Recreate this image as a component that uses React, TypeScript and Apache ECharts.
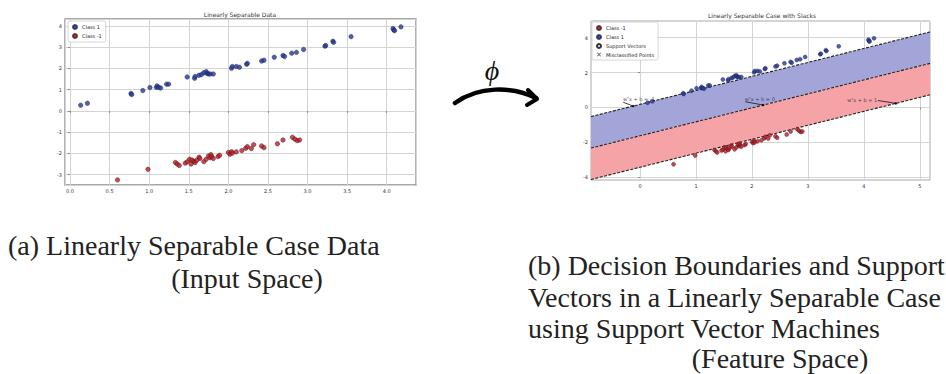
import React, { useEffect, useRef } from 'react';
import * as echarts from 'echarts';

// ---------- data ----------
const class1Points: number[][] = [
  [0.135, 0.27], [0.22, 0.36], [0.77, 0.82], [0.78, 0.77], [0.92, 0.96], [1.01, 1.1],
  [1.09, 1.11], [1.1, 1.18], [1.12, 1.11], [1.145, 1.08], [1.22, 1.26], [1.246, 1.26],
  [1.48, 1.6], [1.574, 1.54], [1.58, 1.62], [1.63, 1.68], [1.66, 1.71], [1.69, 1.8],
  [1.72, 1.85], [1.73, 1.77], [1.75, 1.74], [1.77, 1.74], [1.81, 1.74], [2.04, 2.01],
  [2.05, 2.09], [2.1, 2.09], [2.14, 2.06], [2.23, 2.2], [2.24, 2.24], [2.42, 2.35],
  [2.45, 2.39], [2.58, 2.53], [2.69, 2.61], [2.71, 2.56], [2.8, 2.72], [2.86, 2.76],
  [2.95, 2.89], [3.22, 3.05], [3.23, 3.08], [3.32, 3.28], [3.33, 3.23], [3.55, 3.5],
  [4.08, 3.88], [4.09, 3.81], [4.1, 3.78], [4.18, 3.96],
];
const classNeg1Points: number[][] = [
  [0.6, -3.25], [0.985, -2.75], [1.33, -2.43], [1.355, -2.5], [1.38, -2.57], [1.456, -2.46],
  [1.48, -2.4], [1.51, -2.28], [1.53, -2.5], [1.54, -2.31], [1.566, -2.37], [1.58, -2.43],
  [1.6, -2.32], [1.63, -2.18], [1.64, -2.24], [1.69, -2.39], [1.72, -2.28], [1.75, -2.12],
  [1.77, -2.21], [1.78, -2.06], [1.79, -2.15], [1.81, -2.24], [1.87, -2.15], [1.89, -2.09],
  [2.0, -1.96], [2.02, -2.04], [2.04, -1.92], [2.05, -1.99], [2.1, -1.93], [2.17, -1.87],
  [2.22, -1.76], [2.24, -1.68], [2.29, -1.77], [2.32, -1.59], [2.42, -1.65], [2.45, -1.73],
  [2.62, -1.55], [2.69, -1.37], [2.81, -1.24], [2.84, -1.33], [2.87, -1.4], [2.9, -1.37],
];
// decision boundaries: y = slope * x + intercept
const boundarySlope = 0.8;
const boundaryIntercepts = [0.18, -1.62, -3.42]; // upper margin, decision, lower margin
const annotationLabels = ['wᵀx + b = -1', 'wᵀx + b = 0', 'wᵀx + b = 1'];
const annotationTextPos: number[][] = [[-0.02, 0.48], [2.14, 0.5], [3.97, 0.42]];
const annotationStarts: number[][] = [[-0.3, 0.3], [1.88, 0.33], [4.25, 0.4]];
const annotationTargets: number[][] = [[-0.12, 0.08], [2.2, 0.14], [4.57, 0.236]];

// axis ranges
const leftX = [-0.063, 4.37];
const leftY = [-3.49, 4.33];
const rightX = [-0.875, 5.18];
const rightY = [-4.15, 4.95];

const BLUE = '#2b3990';
const RED = '#b3202a';
const BLUE_BAND = '#a3a5d8';
const RED_BAND = '#f5a3a7';

const SERIF = '"Liberation Serif", "DejaVu Serif", serif';
const SANS = '"DejaVu Sans", sans-serif';

export default function App() {
  const ref = useRef<HTMLDivElement>(null);
  useEffect(() => {
    if (!ref.current) return;
    const chart = echarts.init(ref.current, undefined, { renderer: 'svg' });

    const axisLabel = (fmt: (v: number) => string) => ({
      fontSize: 5,
      color: '#333',
      fontFamily: SANS,
      margin: 3,
      showMinLabel: false,
      showMaxLabel: false,
      formatter: fmt,
    });
    const splitLine = { show: true, lineStyle: { color: '#d4d4d4', width: 1 } };
    const axisTick = { show: true, length: 2, lineStyle: { color: '#555', width: 0.6 } };

    const boundaryLine = (b: number) => ({
      type: 'line',
      xAxisIndex: 1,
      yAxisIndex: 1,
      data: [
        [rightX[0], boundarySlope * rightX[0] + b],
        [rightX[1], boundarySlope * rightX[1] + b],
      ],
      showSymbol: false,
      symbol: 'none',
      lineStyle: { color: '#222', width: 1.1, type: [3, 1.5] },
      silent: true,
      z: 4,
    });

    const band = (bLow: number, bHigh: number, color: string) => ({
      type: 'custom',
      xAxisIndex: 1,
      yAxisIndex: 1,
      silent: true,
      clip: true,
      z: 1,
      data: [[rightX[0], rightX[1], bLow, bHigh]],
      renderItem: (_p: any, api: any) => {
        const x0 = api.value(0);
        const x1 = api.value(1);
        const b0 = api.value(2);
        const b1 = api.value(3);
        const pts = [
          [x0, boundarySlope * x0 + b0],
          [x1, boundarySlope * x1 + b0],
          [x1, boundarySlope * x1 + b1],
          [x0, boundarySlope * x0 + b1],
        ].map((p) => api.coord(p));
        return { type: 'polygon', shape: { points: pts }, style: { fill: color } };
      },
    });

    const arrows = annotationStarts.map((s, i) => ({
      type: 'line',
      xAxisIndex: 1,
      yAxisIndex: 1,
      data: [s, annotationTargets[i]],
      symbol: 'none',
      lineStyle: { color: '#111', width: 0.8 },
      silent: true,
      z: 6,
    }));

    const legendBase = {
      orient: 'vertical',
      itemWidth: 4,
      itemHeight: 4,
      padding: [3, 4, 3, 4],
      backgroundColor: '#fff',
      borderColor: '#ccc',
      borderWidth: 0.8,
      borderRadius: 2,
      textStyle: { fontSize: 5, color: '#222', fontFamily: SANS },
      selectedMode: false,
    };

    chart.setOption({
      animation: false,
      grid: [
        { left: 65, top: 19, width: 351, height: 166, show: true, borderColor: '#8a8a8a', borderWidth: 1.3, backgroundColor: '#fff' },
        { left: 591, top: 21, width: 339, height: 159, show: true, borderColor: '#a8a8a8', borderWidth: 1, backgroundColor: '#fff' },
      ],
      xAxis: [
        {
          type: 'value', gridIndex: 0, min: leftX[0], max: leftX[1], splitNumber: 9,
          axisLine: { show: false }, axisTick, splitLine,
          axisLabel: axisLabel((v: number) => v.toFixed(1)),
        },
        {
          type: 'value', gridIndex: 1, min: rightX[0], max: rightX[1], splitNumber: 6,
          axisLine: { show: false }, axisTick, splitLine,
          axisLabel: axisLabel((v: number) => String(Math.round(v))),
        },
      ],
      yAxis: [
        {
          type: 'value', gridIndex: 0, min: leftY[0], max: leftY[1], splitNumber: 8,
          axisLine: { show: false }, axisTick, splitLine,
          axisLabel: axisLabel((v: number) => String(Math.round(v))),
        },
        {
          type: 'value', gridIndex: 1, min: rightY[0], max: rightY[1], splitNumber: 5,
          axisLine: { show: false }, axisTick, splitLine,
          axisLabel: axisLabel((v: number) => String(Math.round(v))),
        },
      ],
      legend: [
        { ...legendBase, left: 68, top: 21, itemGap: 3, data: ['Class 1', 'Class -1'] },
        { ...legendBase, left: 592, top: 22, itemGap: 3, data: ['Class -1', 'Class 1', 'Support Vectors', 'Misclassified Points'] },
      ],
      series: [
        {
          name: 'Class 1', type: 'scatter', xAxisIndex: 0, yAxisIndex: 0, data: class1Points,
          symbolSize: 4.5, itemStyle: { color: BLUE, borderColor: '#141d5c', borderWidth: 0.5 }, z: 5,
        },
        {
          name: 'Class -1', type: 'scatter', xAxisIndex: 0, yAxisIndex: 0, data: classNeg1Points,
          symbolSize: 4.5, itemStyle: { color: RED, borderColor: '#4d0c0f', borderWidth: 0.5 }, z: 5,
        },
        band(boundaryIntercepts[1], boundaryIntercepts[0], BLUE_BAND),
        band(boundaryIntercepts[2], boundaryIntercepts[1], RED_BAND),
        ...boundaryIntercepts.map(boundaryLine),
        {
          name: 'Class -1', type: 'scatter', xAxisIndex: 1, yAxisIndex: 1, data: classNeg1Points,
          symbolSize: 4, itemStyle: { color: RED, borderColor: '#4d0c0f', borderWidth: 0.5 }, z: 5,
        },
        {
          name: 'Class 1', type: 'scatter', xAxisIndex: 1, yAxisIndex: 1, data: class1Points,
          symbolSize: 4, itemStyle: { color: BLUE, borderColor: '#141d5c', borderWidth: 0.5 }, z: 5,
        },
        {
          name: 'Support Vectors', type: 'scatter', xAxisIndex: 1, yAxisIndex: 1, data: [],
          symbol: 'circle', symbolSize: 6,
          itemStyle: { color: 'rgba(255,255,255,0)', borderColor: '#000', borderWidth: 0.6 },
        },
        {
          name: 'Misclassified Points', type: 'scatter', xAxisIndex: 1, yAxisIndex: 1, data: [],
          symbol: 'path://M0,1L1,0L5,4L9,0L10,1L6,5L10,9L9,10L5,6L1,10L0,9L4,5Z', symbolSize: 5,
          itemStyle: { color: '#000' },
        },
        ...arrows,
        {
          type: 'scatter', xAxisIndex: 1, yAxisIndex: 1, data: annotationTargets,
          symbolSize: 2.5, itemStyle: { color: '#000' }, silent: true, z: 7,
        },
        {
          type: 'scatter', xAxisIndex: 1, yAxisIndex: 1, silent: true, z: 8,
          data: annotationTextPos.map((p, i) => ({ value: p, name: annotationLabels[i] })),
          symbolSize: 1, itemStyle: { color: 'rgba(0,0,0,0)' },
          label: {
            show: true, position: 'inside', formatter: '{b}', fontSize: 5,
            color: '#1a1a3a', fontFamily: SANS,
          },
        },
      ],
      graphic: [
        {
          type: 'text', x: 240, y: 14,
          style: { text: 'Linearly Separable Data', fontSize: 6, fill: '#333', fontFamily: SANS, textAlign: 'center', textVerticalAlign: 'middle' },
        },
        {
          type: 'text', x: 762, y: 15,
          style: { text: 'Linearly Separable Case with Slacks', fontSize: 6, fill: '#333', fontFamily: SANS, textAlign: 'center', textVerticalAlign: 'middle' },
        },
        {
          type: 'text', x: 492, y: 70,
          style: { text: 'ϕ', fontSize: 28, fontStyle: 'italic', fill: '#111', fontFamily: SERIF, textAlign: 'center', textVerticalAlign: 'middle' },
        },
        {
          type: 'bezierCurve',
          shape: { x1: 455, y1: 103, cpx1: 478, cpy1: 86, cpx2: 512, cpy2: 86, x2: 536, y2: 98 },
          style: { stroke: '#000', lineWidth: 4.5, fill: 'none', lineCap: 'round' },
        },
        {
          type: 'polyline',
          shape: { points: [[528, 90], [537, 99], [527, 105]] },
          style: { stroke: '#000', lineWidth: 4, fill: 'none', lineCap: 'round', lineJoin: 'round' },
        },
        {
          type: 'text', x: 8, y: 245,
          style: { text: '(a) Linearly Separable Case Data', fontSize: 28, fill: '#222', fontFamily: SERIF, textAlign: 'left', textVerticalAlign: 'middle' },
        },
        {
          type: 'text', x: 247, y: 278,
          style: { text: '(Input Space)', fontSize: 28, fill: '#222', fontFamily: SERIF, textAlign: 'center', textVerticalAlign: 'middle' },
        },
        {
          type: 'text', x: 528, y: 265,
          style: { text: '(b) Decision Boundaries and Support', fontSize: 28, fill: '#222', fontFamily: SERIF, textAlign: 'left', textVerticalAlign: 'middle' },
        },
        {
          type: 'text', x: 528, y: 297,
          style: { text: 'Vectors in a Linearly Separable Case', fontSize: 28, fill: '#222', fontFamily: SERIF, textAlign: 'left', textVerticalAlign: 'middle' },
        },
        {
          type: 'text', x: 528, y: 328,
          style: { text: 'using Support Vector Machines', fontSize: 28, fill: '#222', fontFamily: SERIF, textAlign: 'left', textVerticalAlign: 'middle' },
        },
        {
          type: 'text', x: 780, y: 358,
          style: { text: '(Feature Space)', fontSize: 28, fill: '#222', fontFamily: SERIF, textAlign: 'center', textVerticalAlign: 'middle' },
        },
      ],
    });
    return () => chart.dispose();
  }, []);
  return (
    <div
      ref={ref}
      style={{ position: 'absolute', left: 0, top: 0, width: 946, height: 374, background: '#fff' }}
    />
  );
}
